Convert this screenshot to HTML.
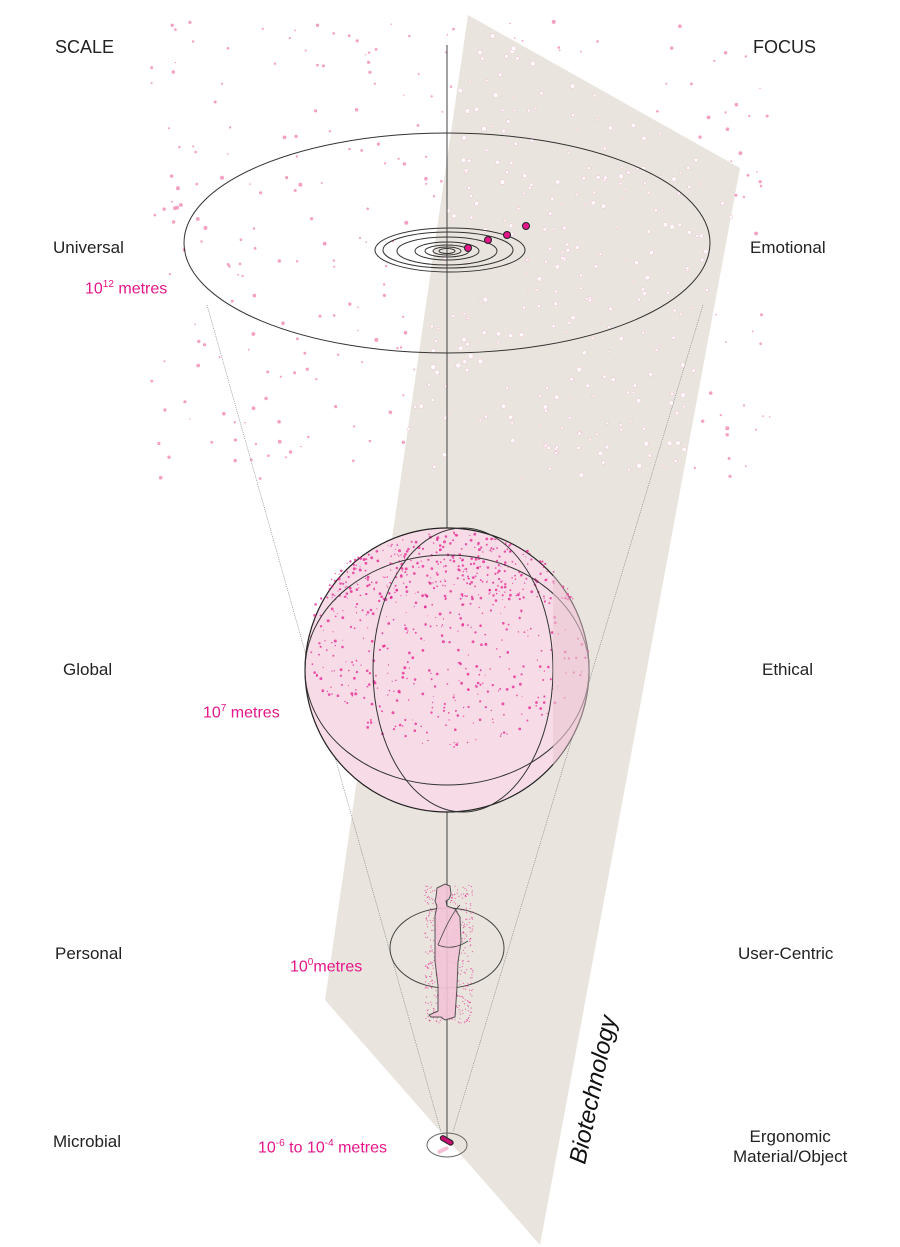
<!DOCTYPE html>
<html><head><meta charset="utf-8"><style>
body{margin:0;background:#fff;width:900px;height:1247px;overflow:hidden;font-family:"Liberation Sans",sans-serif}
.l{position:absolute;font-size:17px;color:#222}
.m{position:absolute;font-size:16px;color:#e4168a}
sup{font-size:10px}
</style></head><body>
<svg id="s" width="900" height="1247" style="position:absolute;left:0;top:0">
<polygon points="468,15 740,168 540,1245 325,1000" fill="#e9e5de"/>
<g id="dots"></g>
<line x1="447" y1="45" x2="447" y2="1140" stroke="#444" stroke-width="1"/>
<line x1="207" y1="305" x2="441" y2="1132" stroke="#777" stroke-width="0.6" stroke-dasharray="1,1"/>
<line x1="703" y1="305" x2="453" y2="1132" stroke="#777" stroke-width="0.6" stroke-dasharray="1,1"/>
<ellipse cx="447" cy="243" rx="263" ry="110" fill="none" stroke="#333" stroke-width="1"/>
<g fill="none" stroke="#333" stroke-width="1">
<ellipse cx="450" cy="250" rx="75" ry="22"/>
<ellipse cx="448" cy="250" rx="65" ry="18"/>
<ellipse cx="447" cy="251" rx="50" ry="14"/>
<ellipse cx="447" cy="251" rx="32" ry="9"/>
<ellipse cx="447" cy="251" rx="22" ry="6"/>
<ellipse cx="447" cy="251" rx="14" ry="4"/>
<ellipse cx="447" cy="251" rx="8" ry="2.5"/>
</g>
<g fill="#e4168a" stroke="#222" stroke-width="1">
<circle cx="468" cy="248" r="3.5"/><circle cx="488" cy="240" r="3.5"/><circle cx="507" cy="235" r="3.5"/><circle cx="526" cy="226" r="3.5"/>
</g>
<circle cx="447" cy="670" r="142" fill="#f7dce7" stroke="#222" stroke-width="1.2"/>
<g id="gdots"></g>
<ellipse cx="447" cy="670" rx="142" ry="115" fill="none" stroke="#333"/>
<ellipse cx="463" cy="670" rx="90" ry="142" fill="none" stroke="#333"/>
<path d="M553,575 A142,142 0 0 1 553,765 Z" fill="#e9c6d2" opacity="0.6"/>
<ellipse cx="447" cy="948" rx="57" ry="40" fill="none" stroke="#444"/>
<g id="pdots"></g>
<path d="M437,888 l8,-4 l5,2 l1,8 l-2,5 l-3,2 l1,5 l8,3 l5,8 l1,25 l-3,20 l-1,25 l-2,30 l-10,3 l-4,-3 l-10,0 l-2,-2 l9,-4 l0,-25 l-3,-25 l0,-45 l2,-10 l-2,-5 l1,-4 z" fill="#f4c4d8" stroke="#444" stroke-width="1" opacity="0.9"/>
<path d="M438,945 q12,-30 22,-40 M438,945 q15,6 30,-4" fill="none" stroke="#444" stroke-width="0.8"/>
<ellipse cx="447" cy="1145" rx="20" ry="12" fill="none" stroke="#666"/>
<rect x="440" y="1138" width="14" height="5" rx="2.5" transform="rotate(30 447 1140)" fill="#c01070" stroke="#222"/>
<rect x="437" y="1148" width="12" height="4" rx="2" transform="rotate(-25 443 1150)" fill="#f6c0d8"/>
<text x="0" y="0" transform="translate(585,1165) rotate(-78)" font-size="24" font-style="italic" fill="#111" font-family="Liberation Sans">Biotechnology</text>
</svg>
<div class="l" style="left:55px;top:37px;font-size:18px">SCALE</div>
<div class="l" style="left:753px;top:37px;font-size:18px">FOCUS</div>
<div class="l" style="left:53px;top:238px">Universal</div>
<div class="l" style="left:750px;top:238px">Emotional</div>
<div class="m" style="left:85px;top:279px">10<sup>12</sup> metres</div>
<div class="l" style="left:63px;top:660px">Global</div>
<div class="l" style="left:762px;top:660px">Ethical</div>
<div class="m" style="left:203px;top:703px">10<sup>7</sup> metres</div>
<div class="l" style="left:55px;top:944px">Personal</div>
<div class="l" style="left:738px;top:944px">User-Centric</div>
<div class="m" style="left:290px;top:957px">10<sup>0</sup>metres</div>
<div class="l" style="left:53px;top:1132px">Microbial</div>
<div class="l" style="left:733px;top:1127px;text-align:center;line-height:20px">Ergonomic<br>Material/Object</div>
<div class="m" style="left:258px;top:1138px">10<sup>-6</sup> to 10<sup>-4</sup> metres</div>
<script>
var r=12345;function R(){r=(r*16807)%2147483647;return r/2147483647;}
var g=document.getElementById('dots'),h='';
for(var i=0;i<700;i++){var x=150+R()*620,y=20+R()*460;
var inPlane=(x>468-(y-15)*0.145)&&(x<468+(y-15)*1.77)&&(x<740-(y-168)*0.186);
if(inPlane){h+='<circle cx="'+x.toFixed(1)+'" cy="'+y.toFixed(1)+'" r="'+(1+R()*1.5).toFixed(1)+'" fill="#fff" stroke="#f2a8c6" stroke-width="0.4"/>';}
else if(R()<0.5){h+='<circle cx="'+x.toFixed(1)+'" cy="'+y.toFixed(1)+'" r="'+(0.7+R()*1.3).toFixed(1)+'" fill="#f4a0c2"/>';}}
g.innerHTML=h;h='';
for(var i=0;i<1400;i++){var a=R()*6.283,d=Math.sqrt(R())*135,x=447+Math.cos(a)*d*1.05,y=640+Math.sin(a)*d*0.8;
if(y<600||R()<0.35)h+='<circle cx="'+x.toFixed(1)+'" cy="'+y.toFixed(1)+'" r="'+(0.5+R()*1).toFixed(1)+'" fill="#e4168a" opacity="0.7"/>';}
document.getElementById('gdots').innerHTML=h;h='';
for(var i=0;i<500;i++){var x=425+R()*48,y=885+R()*138;h+='<circle cx="'+x.toFixed(1)+'" cy="'+y.toFixed(1)+'" r="0.6" fill="#e4168a" opacity="0.6"/>';}
document.getElementById('pdots').innerHTML=h;
</script>
</body></html>
